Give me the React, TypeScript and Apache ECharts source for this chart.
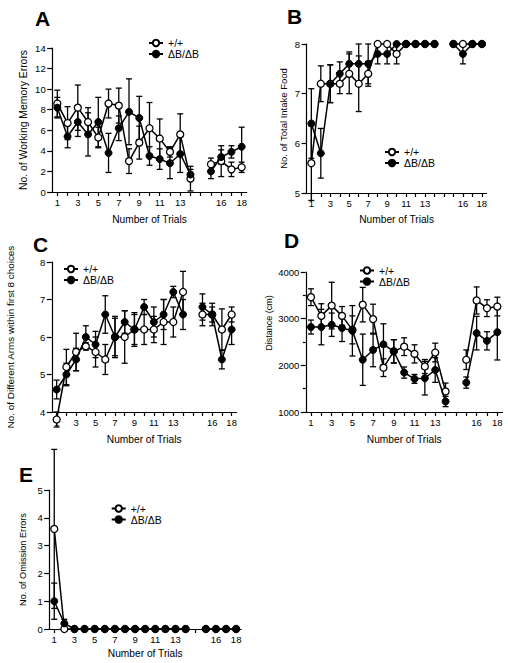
import React, { useEffect, useRef } from 'react';
import * as echarts from 'echarts';

// Trial slots along every x axis: trials 1-14, an empty slot, then trials 15-18.
const trialSlots = ['1', '2', '3', '4', '5', '6', '7', '8', '9', '10', '11', '12', '13', '14', '', '15', '16', '17', '18'];
const labelledTrials = ['1', '3', '5', '7', '9', '11', '13', '16', '18'];
const GAP_SLOT = 14;

const WT = '+/+';
const KO = 'ΔB/ΔB';

// A: working memory errors (mean, SEM)
const memErrWt = [8.6, 6.7, 8.2, 6.8, 5.3, 8.6, 8.4, 3.0, 4.8, 6.2, 5.2, 3.9, 5.6, 1.3, 2.7, 3.0, 2.2, 2.4];
const memErrWtSem = [1.3, 1.6, 2.2, 1.4, 1.0, 1.4, 1.7, 1.2, 1.6, 2.5, 1.9, 0.5, 2.0, 1.2, 0.6, 1.5, 0.7, 0.5];
const memErrKo = [8.2, 5.4, 6.8, 5.6, 6.8, 3.8, 6.2, 7.8, 7.2, 3.5, 3.2, 2.8, 3.7, 1.7, 2.0, 3.4, 3.9, 4.4];
const memErrKoSem = [1.0, 1.1, 1.4, 2.1, 2.4, 1.9, 1.2, 3.2, 2.1, 0.9, 1.0, 1.5, 1.8, 0.5, 0.7, 0.7, 0.6, 1.9];

// B: total intake food
const foodWt = [5.6, 7.2, 7.2, 7.2, 7.4, 7.2, 7.4, 8.0, 8.0, 7.8, 8.0, 8.0, 8.0, 8.0, 8.0, 8.0, 8.0, 8.0];
const foodWtSem = [0.75, 0.36, 0.38, 0.2, 0.4, 0.56, 0.25, 0, 0, 0.2, 0, 0, 0, 0, 0, 0, 0, 0];
const foodKo = [6.4, 5.8, 7.2, 7.4, 7.6, 7.6, 7.6, 7.8, 7.8, 8.0, 8.0, 8.0, 8.0, 8.0, 8.0, 7.8, 8.0, 8.0];
const foodKoSem = [0.7, 0.5, 0.38, 0.24, 0.24, 0.4, 0.4, 0.2, 0.2, 0, 0, 0, 0, 0, 0, 0.2, 0, 0];

// C: different arms within first 8 choices
const armsWt = [3.8, 5.2, 5.6, 5.75, 5.6, 5.4, 6.0, 6.0, 6.2, 6.2, 6.2, 6.4, 6.4, 7.2, 6.6, 6.6, 6.2, 6.6];
const armsWtSem = [0.2, 0.47, 0.5, 0.1, 0.4, 0.4, 0.55, 0.7, 0.45, 0.4, 0.35, 0.6, 0.4, 0.55, 0.3, 0.2, 0.55, 0.2];
const armsKo = [4.6, 5.0, 5.4, 6.0, 5.8, 6.6, 6.0, 6.4, 6.2, 6.8, 6.4, 6.6, 7.2, 6.6, 6.8, 6.6, 5.4, 6.2];
const armsKoSem = [0.25, 0.3, 0.3, 0.3, 0.35, 0.5, 0.5, 0.3, 0.4, 0.2, 0.4, 0.4, 0.15, 0.4, 0.35, 0.3, 0.25, 0.4];

// D: distance travelled (cm)
const distWt = [3460, 3060, 3280, 3060, 2760, 3300, 2990, 1950, 2300, 2400, 2245, 1975, 2275, 1440, 2120, 3390, 3225, 3260];
const distWtSem = [180, 260, 500, 200, 300, 370, 320, 190, 250, 190, 195, 150, 200, 180, 210, 290, 180, 200];
const distKo = [2820, 2820, 2870, 2800, 2740, 2120, 2330, 2450, 2300, 1845, 1710, 1725, 1900, 1225, 1630, 2690, 2525, 2710];
const distKoSem = [150, 380, 250, 290, 540, 550, 360, 440, 250, 120, 95, 360, 265, 110, 120, 360, 195, 595];

// E: omission errors
const omitWt = [3.6, 0, 0, 0, 0, 0, 0, 0, 0, 0, 0, 0, 0, 0, 0, 0, 0, 0];
const omitWtSem = [2.86, 0, 0, 0, 0, 0, 0, 0, 0, 0, 0, 0, 0, 0, 0, 0, 0, 0];
const omitKo = [1.0, 0.2, 0, 0, 0, 0, 0, 0, 0, 0, 0, 0, 0, 0, 0, 0, 0, 0];
const omitKoSem = [0.65, 0.15, 0, 0, 0, 0, 0, 0, 0, 0, 0, 0, 0, 0, 0, 0, 0, 0];

const FONT = '"Liberation Sans", Arial, Helvetica, sans-serif';

const slotOf = (trialIdx: number) => (trialIdx < GAP_SLOT ? trialIdx : trialIdx + 1);

const toSlots = (vals: number[]) => {
  const out: (number | null)[] = trialSlots.map(() => null);
  vals.forEach((v, i) => {
    out[slotOf(i)] = v;
  });
  return out;
};

const toErrBars = (vals: number[], sem: number[]) =>
  vals
    .map((v, i) => [slotOf(i), v + sem[i], v - sem[i], sem[i]])
    .filter((d) => d[3] > 0);

type Panel = {
  letter: string;
  letterPos: [number, number];
  grid: { left: number; top: number; width: number; height: number };
  yName: string;
  yNameSize: number;
  yNameGap: number;
  yNamePad?: number[];
  yMin: number;
  yMax: number;
  yStep: number;
  yMinor?: boolean;
  xNameGap: number;
  legendPos: [number, number];
  wt: number[];
  wtSem: number[];
  ko: number[];
  koSem: number[];
};

const panels: Panel[] = [
  {
    letter: 'A', letterPos: [35, 18],
    grid: { left: 52.2, top: 48, width: 194.6, height: 144 },
    yName: 'No. of Working Memory Errors', yNameSize: 10.4, yNameGap: 24,
    yMin: 0, yMax: 14, yStep: 2, xNameGap: 22, legendPos: [148, 37.5],
    wt: memErrWt, wtSem: memErrWtSem, ko: memErrKo, koSem: memErrKoSem,
  },
  {
    letter: 'B', letterPos: [287, 16.5],
    grid: { left: 306.6, top: 44, width: 180, height: 149 },
    yName: 'No. of Total Intake Food', yNameSize: 9.5, yNameGap: 18.5,
    yMin: 5, yMax: 8, yStep: 1, xNameGap: 21, legendPos: [384, 146.5],
    wt: foodWt, wtSem: foodWtSem, ko: foodKo, koSem: foodKoSem,
  },
  {
    letter: 'C', letterPos: [33, 244],
    grid: { left: 51.8, top: 262, width: 184.7, height: 150 },
    yName: 'No. of Different Arms within first 8 choices', yNameSize: 9.9, yNameGap: 36.8,
    yMin: 4, yMax: 8, yStep: 1, xNameGap: 22, legendPos: [63, 263.5],
    wt: armsWt, wtSem: armsWtSem, ko: armsKo, koSem: armsKoSem,
  },
  {
    letter: 'D', letterPos: [284, 240.5],
    grid: { left: 305.8, top: 272, width: 196.7, height: 140 },
    yName: 'Distance (cm)', yNameSize: 9, yNameGap: 32, yNamePad: [0, 0, 0, 38],
    yMin: 1000, yMax: 4000, yStep: 1000, yMinor: true, xNameGap: 22, legendPos: [359, 265],
    wt: distWt, wtSem: distWtSem, ko: distKo, koSem: distKoSem,
  },
  {
    letter: 'E', letterPos: [19, 474.5],
    grid: { left: 49.2, top: 490, width: 192, height: 139 },
    yName: 'No. of Omission Errors', yNameSize: 9.2, yNameGap: 22,
    yMin: 0, yMax: 5, yStep: 1, xNameGap: 19, legendPos: [110.7, 503],
    wt: omitWt, wtSem: omitWtSem, ko: omitKo, koSem: omitKoSem,
  },
];

const errorBarRenderer = (params: any, api: any) => {
  const x = api.value(0);
  const top = api.coord([x, api.value(1)]);
  const bot = api.coord([x, api.value(2)]);
  const cap = 3;
  const style = { stroke: '#000', lineWidth: 1.3 };
  return {
    type: 'group',
    children: [
      { type: 'line', shape: { x1: top[0], y1: top[1], x2: bot[0], y2: bot[1] }, style },
      { type: 'line', shape: { x1: top[0] - cap, y1: top[1], x2: top[0] + cap, y2: top[1] }, style },
      { type: 'line', shape: { x1: bot[0] - cap, y1: bot[1], x2: bot[0] + cap, y2: bot[1] }, style },
    ],
  };
};

const buildOption = () => {
  const axisLine = { show: true, lineStyle: { color: '#000', width: 1.2 } };
  const grid: any[] = [];
  const xAxis: any[] = [];
  const yAxis: any[] = [];
  const legend: any[] = [];
  const series: any[] = [];
  const graphic: any[] = [];

  panels.forEach((p, i) => {
    grid.push({ ...p.grid, containLabel: false, outerBoundsMode: 'none' });
    xAxis.push({
      type: 'category',
      gridIndex: i,
      data: trialSlots,
      boundaryGap: true,
      axisLine,
      axisTick: { show: true, alignWithLabel: true, interval: 0, length: 4, lineStyle: { color: '#000', width: 1.2 } },
      axisLabel: {
        interval: (_idx: number, val: string) => labelledTrials.includes(val),
        color: '#000', fontSize: 9.5, fontFamily: FONT, margin: 5,
      },
      splitLine: { show: false },
      name: 'Number of Trials',
      nameLocation: 'middle',
      nameGap: p.xNameGap,
      nameTextStyle: { color: '#000', fontSize: 10.2, fontFamily: FONT },
    });
    yAxis.push({
      type: 'value',
      gridIndex: i,
      min: p.yMin,
      max: p.yMax,
      interval: p.yStep,
      axisLine,
      axisTick: { show: true, length: 5, lineStyle: { color: '#000', width: 1.2 } },
      minorTick: { show: !!p.yMinor, splitNumber: 2, length: 3, lineStyle: { color: '#000', width: 1.2 } },
      axisLabel: {
        color: '#000', fontSize: 9.5, fontFamily: FONT, margin: 6.5,
        formatter: (v: number) => String(v),
      },
      splitLine: { show: false },
      name: p.yName,
      nameLocation: 'middle',
      nameGap: p.yNameGap,
      nameTextStyle: {
        color: '#000', fontSize: p.yNameSize, fontFamily: FONT,
        ...(p.yNamePad ? { padding: p.yNamePad } : {}),
      },
    });
    legend.push({
      data: [WT, KO],
      orient: 'vertical',
      left: p.legendPos[0],
      top: p.legendPos[1],
      padding: 0,
      itemGap: 0,
      itemWidth: 14,
      itemHeight: 8,
      selectedMode: false,
      textStyle: { color: '#000', fontSize: 10.5, fontFamily: FONT, lineHeight: 10.5 },
    });
    series.push({
      type: 'custom',
      name: `sem-wt-${p.letter}`,
      xAxisIndex: i,
      yAxisIndex: i,
      data: toErrBars(p.wt, p.wtSem),
      renderItem: errorBarRenderer,
      encode: { x: 0, y: [1, 2] },
      clip: false,
      silent: true,
      z: 1,
    });
    series.push({
      type: 'custom',
      name: `sem-ko-${p.letter}`,
      xAxisIndex: i,
      yAxisIndex: i,
      data: toErrBars(p.ko, p.koSem),
      renderItem: errorBarRenderer,
      encode: { x: 0, y: [1, 2] },
      clip: false,
      silent: true,
      z: 1,
    });
    const lineBase = {
      type: 'line',
      xAxisIndex: i,
      yAxisIndex: i,
      connectNulls: false,
      clip: false,
      symbol: 'circle',
      symbolSize: 7,
      showSymbol: true,
      showAllSymbol: true,
      silent: true,
      lineStyle: { color: '#000', width: 1.5 },
    };
    series.push({
      ...lineBase,
      name: WT,
      data: toSlots(p.wt),
      itemStyle: { color: '#fff', borderColor: '#000', borderWidth: 1.3 },
      z: 2,
    });
    series.push({
      ...lineBase,
      name: KO,
      data: toSlots(p.ko),
      itemStyle: { color: '#000', borderColor: '#000', borderWidth: 1 },
      z: 3,
    });
    graphic.push({
      type: 'text',
      x: p.letterPos[0],
      y: p.letterPos[1],
      style: {
        text: p.letter,
        fill: '#000',
        font: `bold 21px ${FONT}`,
        textAlign: 'left',
        textVerticalAlign: 'middle',
      },
    });
  });

  return {
    animation: false,
    backgroundColor: '#fff',
    grid,
    xAxis,
    yAxis,
    legend,
    series,
    graphic,
  };
};

export default function App() {
  const ref = useRef<HTMLDivElement>(null);

  useEffect(() => {
    if (!ref.current) return;
    const chart = echarts.init(ref.current, undefined, { renderer: 'svg' });
    chart.setOption(buildOption() as any);
    return () => chart.dispose();
  }, []);

  return (
    <div
      ref={ref}
      style={{ position: 'absolute', left: 0, top: 0, width: 508, height: 663, background: '#fff' }}
    />
  );
}
